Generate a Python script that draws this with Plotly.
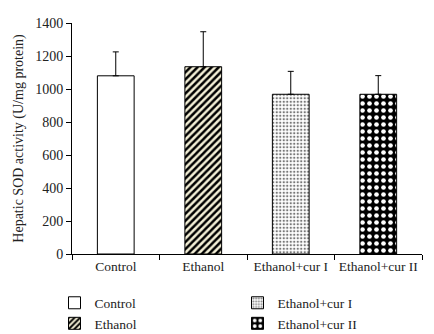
import plotly.graph_objects as go

categories = ["Control", "Ethanol", "Ethanol+cur I", "Ethanol+cur II"]
values = [1080, 1135, 968, 968]
errors = [145, 212, 139, 113]
tick_vals = [0, 200, 400, 600, 800, 1000, 1200, 1400]

styles = [
    dict(shape="", fg="black", bg="white", size=8, sol=0.3, rank=1),
    dict(shape="/", fg="black", bg="#f3efd6", size=5, sol=0.5, rank=3),
    dict(shape=".", fg="#777777", bg="white", size=3.5, sol=0.35, rank=2),
    dict(shape=".", fg="white", bg="black", size=7, sol=0.35, rank=4),
]

fig = go.Figure()
for cat, v, e, st in zip(categories, values, errors, styles):
    fig.add_trace(go.Bar(
        x=[cat], y=[v], name=cat, width=0.42,
        legendrank=st["rank"],
        marker=dict(color=st["bg"], line=dict(color="black", width=1),
                    pattern=dict(shape=st["shape"], fgcolor=st["fg"], bgcolor=st["bg"],
                                 size=st["size"], solidity=st["sol"], fillmode="replace")),
        error_y=dict(type="data", symmetric=False, array=[e], arrayminus=[0],
                     color="black", thickness=1, width=3),
    ))

font_family = "Liberation Serif"
fig.update_layout(
    width=426, height=326,
    margin=dict(l=64, r=12, t=15, b=80, autoexpand=False),
    paper_bgcolor="white", plot_bgcolor="white",
    font=dict(family=font_family, size=14, color="#222"),
    barmode="overlay",
    showlegend=True,
    legend=dict(orientation="h", x=-0.05, y=-0.145, xanchor="left", yanchor="top",
                entrywidth=138, entrywidthmode="pixels",
                font=dict(family=font_family, size=13.5), itemwidth=30,
                tracegroupgap=0, traceorder="normal"),
    xaxis=dict(type="category", categoryorder="array", categoryarray=categories,
               showline=True, linecolor="black", linewidth=1,
               ticks="outside", tickson="boundaries", ticklen=5, tickcolor="black",
               tickangle=0, tickfont=dict(size=13.5), showgrid=False, range=[-0.5, 3.5]),
    yaxis=dict(range=[0, 1400], tickvals=tick_vals, showline=True, linecolor="black",
               linewidth=1, ticks="outside", ticklen=5, tickcolor="black",
               tickfont=dict(size=14), showgrid=False, zeroline=False,
               title=dict(text="Hepatic SOD activity (U/mg protein)", font=dict(size=14),
                          standoff=8)),
)

fig.write_html("out.html")
